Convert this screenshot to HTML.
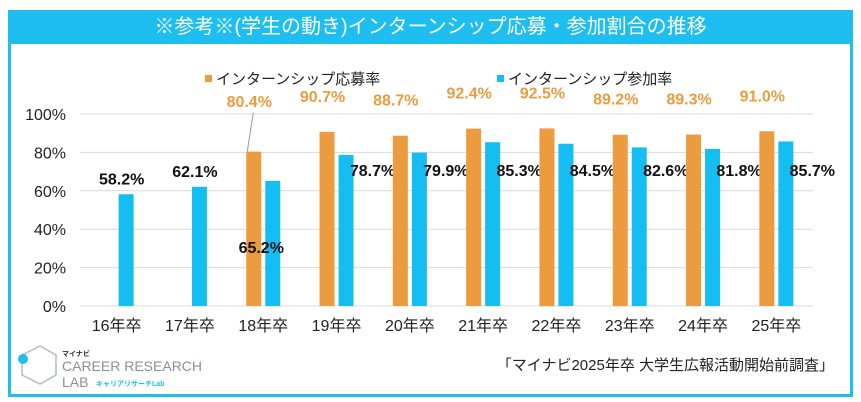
<!DOCTYPE html>
<html><head><meta charset="utf-8"><style>
body{margin:0;width:861px;height:402px;background:#fff;overflow:hidden;font-family:"Liberation Sans","Noto Sans CJK JP",sans-serif}
#frame{position:absolute;left:8px;top:10px;width:839px;height:381px;border:3px solid #1ebef0;}
#title{position:absolute;left:8px;top:10px;width:845px;height:34px;background:#1ebef0;color:#fff;font-size:20px;text-align:center;line-height:34px}
svg{position:absolute;left:0;top:0}
</style></head><body>
<div id="frame"></div>
<div id="title">※参考※(学生の動き)インターンシップ応募・参加割合の推移</div>
<svg id="c" width="861" height="402"></svg>
<script>
const categories=["16年卒","17年卒","18年卒","19年卒","20年卒","21年卒","22年卒","23年卒","24年卒","25年卒"];
const applyRate=[null,null,80.4,90.7,88.7,92.4,92.5,89.2,89.3,91.0];
const joinRate=[58.2,62.1,65.2,78.7,79.9,85.3,84.5,82.6,81.8,85.7];
const yTicks=[0,20,40,60,80,100];
const ORANGE="#ec9b3e",BLUE="#14bdf2";
const svg=document.getElementById('c');const NS="http://www.w3.org/2000/svg";
const x0=80,x1=813,yBase=306,yTop=114;
const slot=(x1-x0)/categories.length;
const xc=i=>x0+slot*(i+0.5);
const y=v=>yBase-(v/100)*(yBase-yTop);
function mk(t,a,txt){const e=document.createElementNS(NS,t);for(const k in a)e.setAttribute(k,a[k]);if(txt!==undefined)e.textContent=txt;svg.appendChild(e);return e;}
yTicks.forEach(t=>{
 const g=mk('line',{x1:x0,x2:x1,y1:y(t),y2:y(t),stroke:'#d9d9d9','stroke-width':1});
 
 
 const l=mk('text',{x:66,y:y(t)+6,'font-size':16,'text-anchor':'end',fill:'#222'},t+'%');
 
 
});
categories.forEach((c,i)=>{
 const cx=xc(i);
 const l=mk('text',{x:cx,y:331,'font-size':16,'text-anchor':'middle',fill:'#222'},c);
 
 
 if(applyRate[i]!=null){
  const v=applyRate[i];
  const b=mk('rect',{x:cx-17,y:y(v),width:15,height:yBase-y(v),fill:ORANGE});
  
  
  const ly=Math.min(y(v)-36,101);
  const t=mk('text',{x:cx-14,y:ly+6,'font-size':16,'font-weight':'bold','text-anchor':'middle',fill:ORANGE},v.toFixed(1)+'%');
  
  
  if(y(v)-ly>40){const ln=mk('line',{x1:cx-10,y1:ly+12,x2:cx-16,y2:y(v),stroke:'#999'});
   
   }
 }
 const v=joinRate[i];
 const b=mk('rect',{x:cx+2,y:y(v),width:15,height:yBase-y(v),fill:BLUE});
 
 
 let lx,ly;
 if(applyRate[i]==null){lx=cx+5;ly=y(v)-16;}
 else if(v<70){lx=cx-2;ly=247;}
 else{lx=cx+36;ly=170;}
 const t=mk('text',{x:lx,y:ly+6,'font-size':16,'font-weight':'bold','text-anchor':'middle',fill:'#111'},v.toFixed(1)+'%');
 
 
});
// legend
[[ORANGE,205,'インターンシップ応募率','legend-apply'],[BLUE,497,'インターンシップ参加率','legend-join']].forEach(d=>{
 const r=mk('rect',{x:d[1],y:75,width:7,height:7,fill:d[0]});
 
 
 const t=mk('text',{x:d[1]+11,y:84,'font-size':15,fill:'#222'},d[2]);
 
 
});
const src=mk('text',{x:834,y:370,'font-size':15,'text-anchor':'end',fill:'#222'},'「マイナビ2025年卒 大学生広報活動開始前調査」');


// logo
const lg=[['path',{d:'M22 355 L40 346 L56 355 L56 375 L40 384 L22 375 Z',fill:'none',stroke:'#b5bcc4','stroke-width':1.5}],
['circle',{cx:23,cy:359,r:5,fill:'#1ebef0'}]];
lg.forEach(d=>{const e=mk(d[0],d[1]);});
const l1=mk('text',{x:62,y:356,'font-size':7,'font-weight':'bold',fill:'#333'},'マイナビ');


const l2=mk('text',{x:62,y:371,'font-size':14,fill:'#8a9099'},'CAREER RESEARCH');


const l3=mk('text',{x:62,y:387,'font-size':14,fill:'#8a9099'},'LAB');


const l4=mk('text',{x:96,y:386,'font-size':7,'font-weight':'bold',fill:'#1ebef0'},'キャリアリサーチLab');


</script>
</body></html>
